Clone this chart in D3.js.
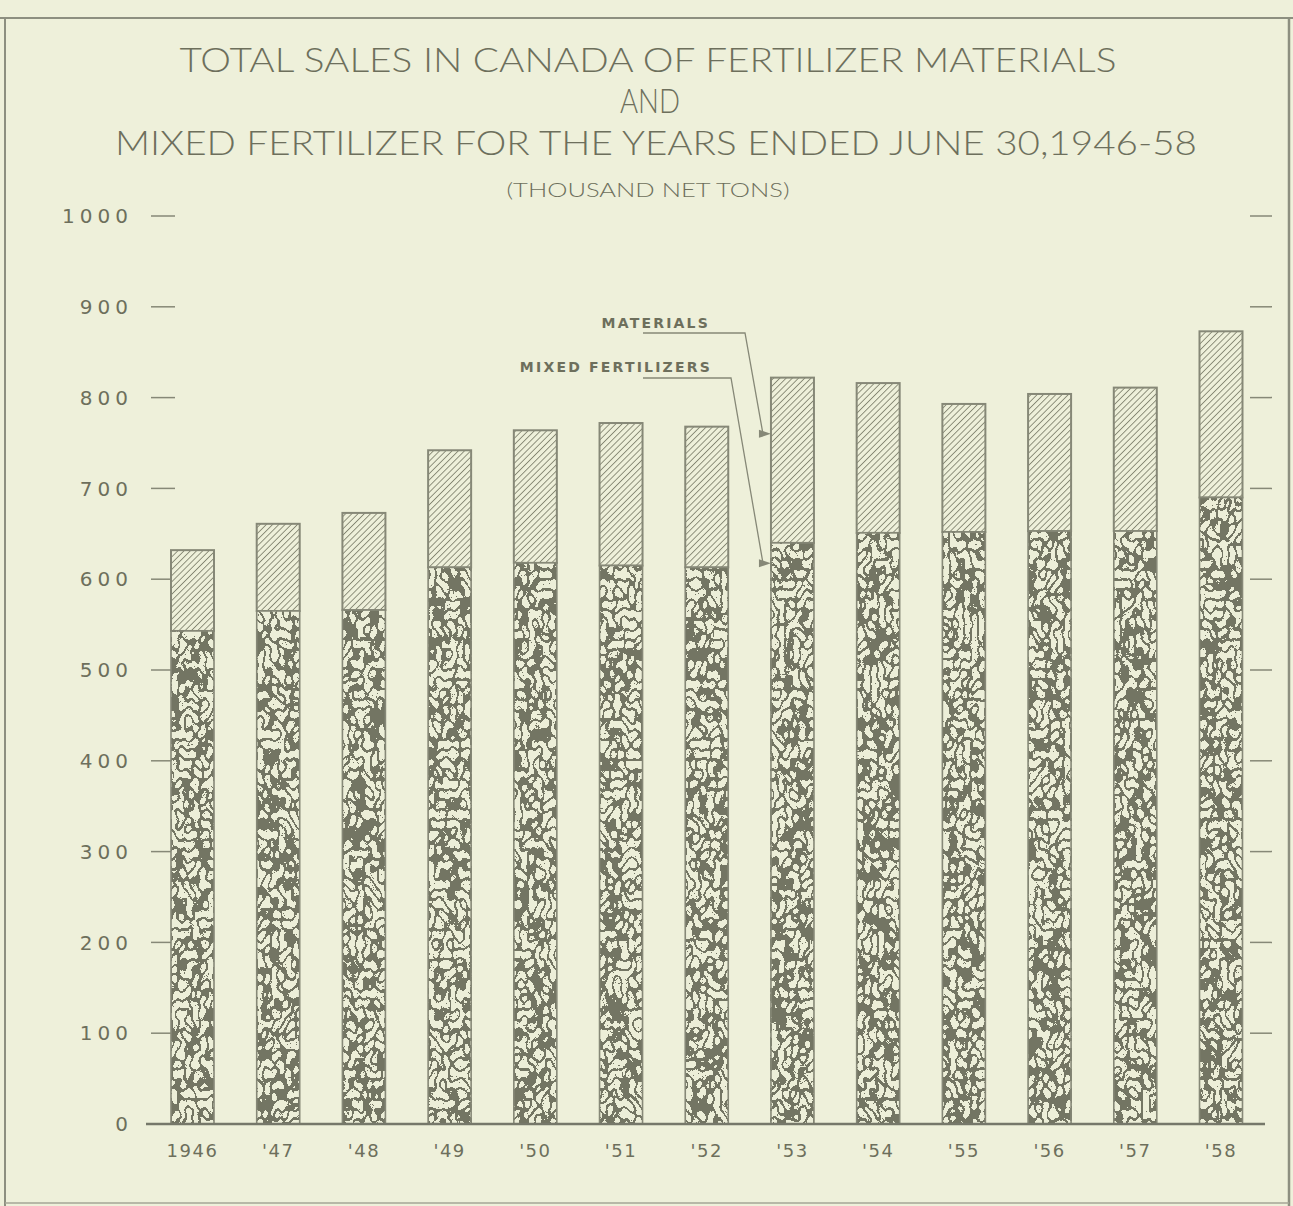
<!DOCTYPE html>
<html>
<head>
<meta charset="utf-8">
<script src="https://cdn.jsdelivr.net/npm/d3@7"></script>
<style>
  html,body{margin:0;padding:0;background:#eef0da;}
  svg{display:block;}
</style>
</head>
<body>
<script>
// ---- data (thousand net tons) ----
const years = ["1946","'47","'48","'49","'50","'51","'52","'53","'54","'55","'56","'57","'58"];
const mixedFertilizers = [543,565,566,613,618,615,613,640,651,652,653,653,690];
const materials = [89,96,107,129,146,157,155,182,165,141,151,158,183];
const yTicks = [0,100,200,300,400,500,600,700,800,900,1000];
const titleLines = [
  "TOTAL SALES IN CANADA OF FERTILIZER MATERIALS",
  "AND",
  "MIXED FERTILIZER FOR THE YEARS ENDED JUNE 30,1946-58"
];
const subtitle = "(THOUSAND NET TONS)";
const legendLabels = ["MATERIALS","MIXED FERTILIZERS"];

const W = 1293, H = 1206;
const ink = "#6d6f5c", barInk = "#868877", bg = "#eef0da";

const svg = d3.select("body").append("svg").attr("width", W).attr("height", H);
svg.append("rect").attr("width", W).attr("height", H).attr("fill", bg);

const defs = svg.append("defs");
const hatch = defs.append("pattern").attr("id","hatch")
  .attr("patternUnits","userSpaceOnUse").attr("width",4.4).attr("height",4.4)
  .attr("patternTransform","rotate(45)");
hatch.append("rect").attr("width",4.4).attr("height",4.4).attr("fill",bg);
hatch.append("line").attr("x1",0).attr("y1",0).attr("x2",0).attr("y2",4.4)
  .attr("stroke","#858773").attr("stroke-width",1.8);

const f = defs.append("filter").attr("id","worms")
  .attr("x",0).attr("y",0).attr("width",1).attr("height",1)
  .attr("primitiveUnits","userSpaceOnUse")
  .attr("color-interpolation-filters","sRGB");
f.append("feTurbulence").attr("type","turbulence").attr("baseFrequency","0.14 0.1")
  .attr("numOctaves",1).attr("seed",11).attr("result","n");
f.append("feColorMatrix").attr("in","n").attr("type","matrix")
  .attr("values","0 0 0 0 0  0 0 0 0 0  0 0 0 0 0  1 0 0 0 0").attr("result","a");
const ct = f.append("feComponentTransfer").attr("in","a").attr("result","m");
ct.append("feFuncA").attr("type","discrete").attr("tableValues","1 0 0 0 0 0 0");
f.append("feFlood").attr("flood-color","#737563").attr("result","c");
f.append("feComposite").attr("in","c").attr("in2","m").attr("operator","in");

// frame
svg.append("line").attr("x1",0).attr("x2",W).attr("y1",18).attr("y2",18).attr("stroke","#8d8f80").attr("stroke-width",2);
svg.append("line").attr("x1",5).attr("x2",5).attr("y1",18).attr("y2",H).attr("stroke","#8d8f80").attr("stroke-width",2);
svg.append("line").attr("x1",1289).attr("x2",1289).attr("y1",18).attr("y2",H).attr("stroke","#8d8f80").attr("stroke-width",2.5);
svg.append("line").attr("x1",5).attr("x2",1289).attr("y1",1203).attr("y2",1203).attr("stroke","#a4a696").attr("stroke-width",1.5);

// titles
const tFont = "Lato,'Open Sans',sans-serif";
const tSpec = [
  {y:72, x:648, len:937},
  {y:113, x:650, len:60},
  {y:155, x:656, len:1082}
];
titleLines.forEach((t,i)=>{
  svg.append("text").attr("x",tSpec[i].x).attr("y",tSpec[i].y)
    .attr("text-anchor","middle").attr("font-family",tFont).attr("font-size",33)
    .attr("font-weight",300)
    .attr("fill",ink).attr("textLength",tSpec[i].len).attr("lengthAdjust","spacingAndGlyphs")
    .text(t);
});
svg.append("text").attr("x",648).attr("y",197).attr("text-anchor","middle")
  .attr("font-family",tFont).attr("font-size",20).attr("font-weight",300).attr("fill",ink)
  .attr("textLength",283).attr("lengthAdjust","spacingAndGlyphs").text(subtitle);

// scales
const y = d3.scaleLinear().domain([0,1000]).range([1124,216]);
const x = d3.scalePoint().domain(years).range([192.5,1221]);
const bw = 43;

// left axis labels and ticks
const lab = "'DejaVu Sans',sans-serif";
svg.append("g").selectAll("text").data(yTicks).join("text")
  .attr("x",133).attr("y",d=>y(d)).attr("dy","0.36em").attr("text-anchor","end")
  .attr("font-family",lab).attr("font-size",20).attr("letter-spacing",5)
  .attr("fill",ink).text(d=>d);
svg.append("g").selectAll("line").data(yTicks.filter(d=>d>0)).join("line")
  .attr("x1",151).attr("x2",175).attr("y1",d=>y(d)).attr("y2",d=>y(d))
  .attr("stroke",barInk).attr("stroke-width",1.5);
// right ticks
svg.append("g").selectAll("line").data(yTicks.filter(d=>d>0)).join("line")
  .attr("x1",1250).attr("x2",1272).attr("y1",d=>y(d)).attr("y2",d=>y(d))
  .attr("stroke",barInk).attr("stroke-width",1.5);

// bars
const data = years.map((yr,i)=>({yr, mixed:mixedFertilizers[i], mat:materials[i]}));
const g = svg.append("g");
g.selectAll("rect.mat").data(data).join("rect").attr("class","mat")
  .attr("x",d=>x(d.yr)-bw/2).attr("width",bw)
  .attr("y",d=>y(d.mixed+d.mat)).attr("height",d=>y(d.mixed)-y(d.mixed+d.mat))
  .attr("fill","url(#hatch)").attr("stroke",barInk).attr("stroke-width",2);
g.selectAll("rect.mixbg").data(data).join("rect").attr("class","mixbg")
  .attr("x",d=>x(d.yr)-bw/2).attr("width",bw)
  .attr("y",d=>y(d.mixed)).attr("height",d=>y(0)-y(d.mixed))
  .attr("fill","#eceed8");
g.selectAll("rect.mixtex").data(data).join("rect").attr("class","mixtex")
  .attr("x",d=>x(d.yr)-bw/2).attr("width",bw)
  .attr("y",d=>y(d.mixed)).attr("height",d=>y(0)-y(d.mixed))
  .attr("fill","#000").attr("filter","url(#worms)");
g.selectAll("rect.mixout").data(data).join("rect").attr("class","mixout")
  .attr("x",d=>x(d.yr)-bw/2).attr("width",bw)
  .attr("y",d=>y(d.mixed)).attr("height",d=>y(0)-y(d.mixed))
  .attr("fill","none").attr("stroke",barInk).attr("stroke-width",1.6);

// baseline
svg.append("line").attr("x1",146).attr("x2",1265).attr("y1",y(0)).attr("y2",y(0))
  .attr("stroke","#76786a").attr("stroke-width",2.5);

// x labels
svg.append("g").selectAll("text").data(years).join("text")
  .attr("x",d=>x(d)).attr("y",1157).attr("text-anchor","middle")
  .attr("font-family",lab).attr("font-size",18).attr("letter-spacing",1.5)
  .attr("fill",ink).text(d=>d);

// legend labels with leader arrows into 1953 bar
const lf = "'DejaVu Sans',sans-serif";
const bx = x(years[7])-bw/2;
svg.append("text").attr("x",710).attr("y",328).attr("text-anchor","end")
  .attr("font-family",lf).attr("font-size",14).attr("font-weight","bold").attr("letter-spacing",2.2)
  .attr("fill",ink).text(legendLabels[0]);
svg.append("text").attr("x",712).attr("y",372).attr("text-anchor","end")
  .attr("font-family",lf).attr("font-size",14).attr("font-weight","bold").attr("letter-spacing",2.2)
  .attr("fill",ink).text(legendLabels[1]);

const matY = y(mixedFertilizers[7] + materials[7]*0.66);
const mixY = y(mixedFertilizers[7]*0.965);
svg.append("path").attr("d",`M643,333 L745,333 L${bx-8},${matY}`)
  .attr("fill","none").attr("stroke",barInk).attr("stroke-width",1.3);
svg.append("path").attr("d",`M643,378 L731,378 L${bx-8},${mixY}`)
  .attr("fill","none").attr("stroke",barInk).attr("stroke-width",1.3);
[matY,mixY].forEach(yy=>{
  svg.append("path").attr("d",`M${bx},${yy} L${bx-12},${yy-4} L${bx-12},${yy+4} Z`)
    .attr("fill",barInk);
});
</script>
</body>
</html>
